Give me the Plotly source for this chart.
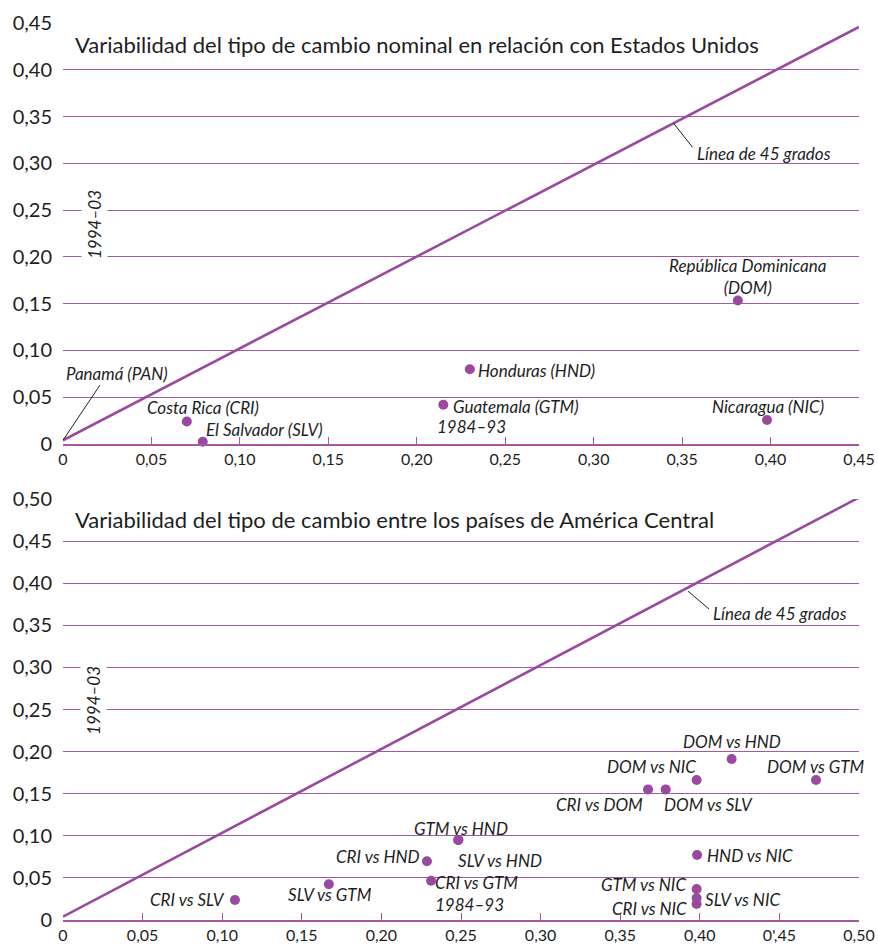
import plotly.graph_objects as go

# ---------------- data ----------------
# Top panel: nominal exchange-rate variability vs United States
top_countries = ["Panamá (PAN)", "Costa Rica (CRI)", "El Salvador (SLV)", "Guatemala (GTM)",
                 "Honduras (HND)", "República Dominicana (DOM)", "Nicaragua (NIC)"]
top_x_8493 = [0.0, 0.070, 0.079, 0.215, 0.230, 0.3815, 0.398]
top_y_9403 = [-0.002, 0.024, 0.0025, 0.042, 0.080, 0.1535, 0.0256]

# Bottom panel: variability among Central American countries
bot_pairs = ["CRI vs SLV", "SLV vs GTM", "CRI vs HND", "CRI vs GTM", "GTM vs HND", "SLV vs HND",
             "CRI vs DOM", "DOM vs SLV", "DOM vs NIC", "DOM vs HND", "DOM vs GTM",
             "HND vs NIC", "GTM vs NIC", "SLV vs NIC", "CRI vs NIC"]
bot_x_8493 = [0.108, 0.167, 0.2286, 0.2312, 0.2483, 0.2483,
              0.3675, 0.3786, 0.398, 0.420, 0.473,
              0.3983, 0.398, 0.398, 0.398]
bot_y_9403 = [0.0238, 0.0424, 0.0697, 0.0467, 0.095, 0.095,
              0.1552, 0.1552, 0.1663, 0.1912, 0.1663,
              0.0772, 0.0368, 0.026, 0.019]

# 45-degree reference lines
line_top_x = [0.0, 0.45]
line_top_y = [0.004, 0.446]
line_bot_x = [0.0, 0.50]
line_bot_y = [0.004, 0.502]

# Tick values / labels
top_tickvals = [0, 0.05, 0.10, 0.15, 0.20, 0.25, 0.30, 0.35, 0.40, 0.45]
top_ticktext = ["0", "0,05", "0,10", "0,15", "0,20", "0,25", "0,30", "0,35", "0,40", "0,45"]
bot_tickvals = [0, 0.05, 0.10, 0.15, 0.20, 0.25, 0.30, 0.35, 0.40, 0.45, 0.50]
bot_xticktext = ["0", "0,05", "0,10", "0,15", "0,20", "0,25", "0,30", "0,35", "0,40", "0',45", "0,50"]
bot_yticktext = ["0", "0,05", "0,10", "0,15", "0,20", "0,25", "0,30", "0,35", "0,40", "0,45", "0,50"]

title_top = "Variabilidad del tipo de cambio nominal en relación con Estados Unidos"
title_bot = "Variabilidad del tipo de cambio entre los países de América Central"

# ---------------- style ----------------
PURPLE = "#9A4A9E"
GRID = "#A558A8"
TEXT = "#1E1E1E"
FONT = "Lato, 'Open Sans', sans-serif"

fig = go.Figure()

fig.add_trace(go.Scatter(x=line_top_x, y=line_top_y, mode="lines",
                         line=dict(color=PURPLE, width=2.6), xaxis="x", yaxis="y",
                         hoverinfo="skip", showlegend=False, cliponaxis=False))
fig.add_trace(go.Scatter(x=top_x_8493, y=top_y_9403, mode="markers", text=top_countries,
                         marker=dict(color=PURPLE, size=10), xaxis="x", yaxis="y",
                         showlegend=False, cliponaxis=False))
fig.add_trace(go.Scatter(x=line_bot_x, y=line_bot_y, mode="lines",
                         line=dict(color=PURPLE, width=2.6), xaxis="x2", yaxis="y2",
                         hoverinfo="skip", showlegend=False, cliponaxis=False))
fig.add_trace(go.Scatter(x=bot_x_8493, y=bot_y_9403, mode="markers", text=bot_pairs,
                         marker=dict(color=PURPLE, size=10), xaxis="x2", yaxis="y2",
                         showlegend=False, cliponaxis=False))

ital = dict(family=FONT, size=17, color=TEXT, style="italic")

def lab(text, x, y, xa="center", ax_="x", ay_="y", **kw):
    d = dict(text=text, x=x, y=y, xref=ax_, yref=ay_, xanchor=xa, yanchor="middle",
             showarrow=False, font=ital)
    d.update(kw)
    return d

annotations = [
    # titles
    dict(text=title_top, x=0.0126, y=0.9626, xref="paper", yref="paper", xanchor="left",
         yanchor="middle", showarrow=False, font=dict(family=FONT, size=22, color=TEXT)),
    dict(text=title_bot, x=0.0126, y=0.4396, xref="paper", yref="paper", xanchor="left",
         yanchor="middle", showarrow=False, font=dict(family=FONT, size=22, color=TEXT)),
    # axis period labels
    dict(text="1994–03", x=0.0389, y=0.7648, xref="paper", yref="paper", textangle=-90,
         xanchor="center", yanchor="middle",
         showarrow=False, font=ital, bgcolor="white", borderpad=2),
    dict(text="1994–03", x=0.0389, y=0.2418, xref="paper", yref="paper", textangle=-90,
         xanchor="center", yanchor="middle",
         showarrow=False, font=ital, bgcolor="white", borderpad=2),
    lab("1984–93", 0.2102, 0.0185, xa="left"),
    # top labels
    lab("Panamá (PAN)", 0.0005, 0.0759, xa="left"),
    lab("Costa Rica (CRI)", 0.0794, 0.0385),
    lab("El Salvador (SLV)", 0.0797, 0.0157, xa="left"),
    lab("Guatemala (GTM)", 0.2192, 0.0399, xa="left"),
    lab("Honduras (HND)", 0.2337, 0.0783, xa="left"),
    lab("República Dominicana<br>(DOM)", 0.387, 0.1787),
    lab("Nicaragua (NIC)", 0.3986, 0.0399),
    lab("Línea de 45 grados", 0.3571, 0.3109, xa="left"),
    # bottom labels
    lab("CRI vs SLV", 0.103, 0.0238, xa="right", ax_="x2", ay_="y2"),
    lab("SLV vs GTM", 0.1677, 0.0297, ax_="x2", ay_="y2"),
    lab("CRI vs HND", 0.2255, 0.0752, xa="right", ax_="x2", ay_="y2"),
    lab("CRI vs GTM<br>1984–93", 0.2325, 0.0309, xa="left", align="left", ax_="x2", ay_="y2"),
    lab("GTM vs HND", 0.2497, 0.1089, ax_="x2", ay_="y2"),
    lab("SLV vs HND", 0.2745, 0.0701, ax_="x2", ay_="y2"),
    lab("DOM vs HND", 0.4205, 0.2117, ax_="x2", ay_="y2"),
    lab("DOM vs NIC", 0.3989, 0.182, xa="right", ax_="x2", ay_="y2"),
    lab("DOM vs GTM", 0.4729, 0.182, ax_="x2", ay_="y2"),
    lab("CRI vs DOM", 0.3656, 0.1378, xa="right", ax_="x2", ay_="y2"),
    lab("DOM vs SLV", 0.3761, 0.1378, xa="left", ax_="x2", ay_="y2"),
    lab("HND vs NIC", 0.4033, 0.0772, xa="left", ax_="x2", ay_="y2"),
    lab("GTM vs NIC", 0.3928, 0.0416, xa="right", ax_="x2", ay_="y2"),
    lab("SLV vs NIC", 0.4022, 0.0246, xa="left", ax_="x2", ay_="y2"),
    lab("CRI vs NIC", 0.3934, 0.0139, xa="right", ax_="x2", ay_="y2"),
    lab("Línea de 45 grados", 0.407, 0.3646, xa="left", ax_="x2", ay_="y2"),
]

leader = dict(color="#222222", width=1)
shapes = [
    dict(type="line", xref="x", yref="y", x0=0.0209, y0=0.063, x1=0.0, y1=0.004, line=leader),
    dict(type="line", xref="x", yref="y", x0=0.3452, y0=0.3429, x1=0.3559, y1=0.3173, line=leader),
    dict(type="line", xref="x2", yref="y2", x0=0.3926, y0=0.3907, x1=0.4058, y1=0.3694, line=leader),
]

tickfont_y = dict(family=FONT, size=20, color=TEXT)
tickfont_x = dict(family=FONT, size=16, color=TEXT)

xcommon = dict(showgrid=False, zeroline=False, showline=True, linecolor=GRID, linewidth=1.6,
               ticks="inside", ticklen=7, tickwidth=1.4, tickcolor=GRID, tickfont=tickfont_x,
               automargin=False)
ycommon = dict(showgrid=True, gridcolor=GRID, gridwidth=1.4, zeroline=False, showline=False,
               ticks="", tickfont=tickfont_y, ticklabelstandoff=10, automargin=False)

fig.update_layout(
    width=878, height=944,
    margin=dict(l=63, r=19, t=10, b=24, autoexpand=False),
    paper_bgcolor="white", plot_bgcolor="white",
    font=dict(family=FONT, color=TEXT),
    showlegend=False,
    xaxis=dict(domain=[0, 1], anchor="y", range=[0, 0.45], tickvals=top_tickvals,
               ticktext=top_ticktext, **xcommon),
    yaxis=dict(domain=[0.52308, 0.98571], anchor="x", range=[0, 0.4502], tickvals=top_tickvals,
               ticktext=top_ticktext, **ycommon),
    xaxis2=dict(domain=[0, 1], anchor="y2", range=[0, 0.50], tickvals=bot_tickvals,
                ticktext=bot_xticktext, **xcommon),
    yaxis2=dict(domain=[0, 0.46264], anchor="x2", range=[0, 0.5002], tickvals=bot_tickvals,
                ticktext=bot_yticktext, **ycommon),
    annotations=annotations,
    shapes=shapes,
)

fig.write_html("out.html", config={"displayModeBar": False},
               post_script="document.body.style.margin='0';document.body.style.overflow='hidden';")
